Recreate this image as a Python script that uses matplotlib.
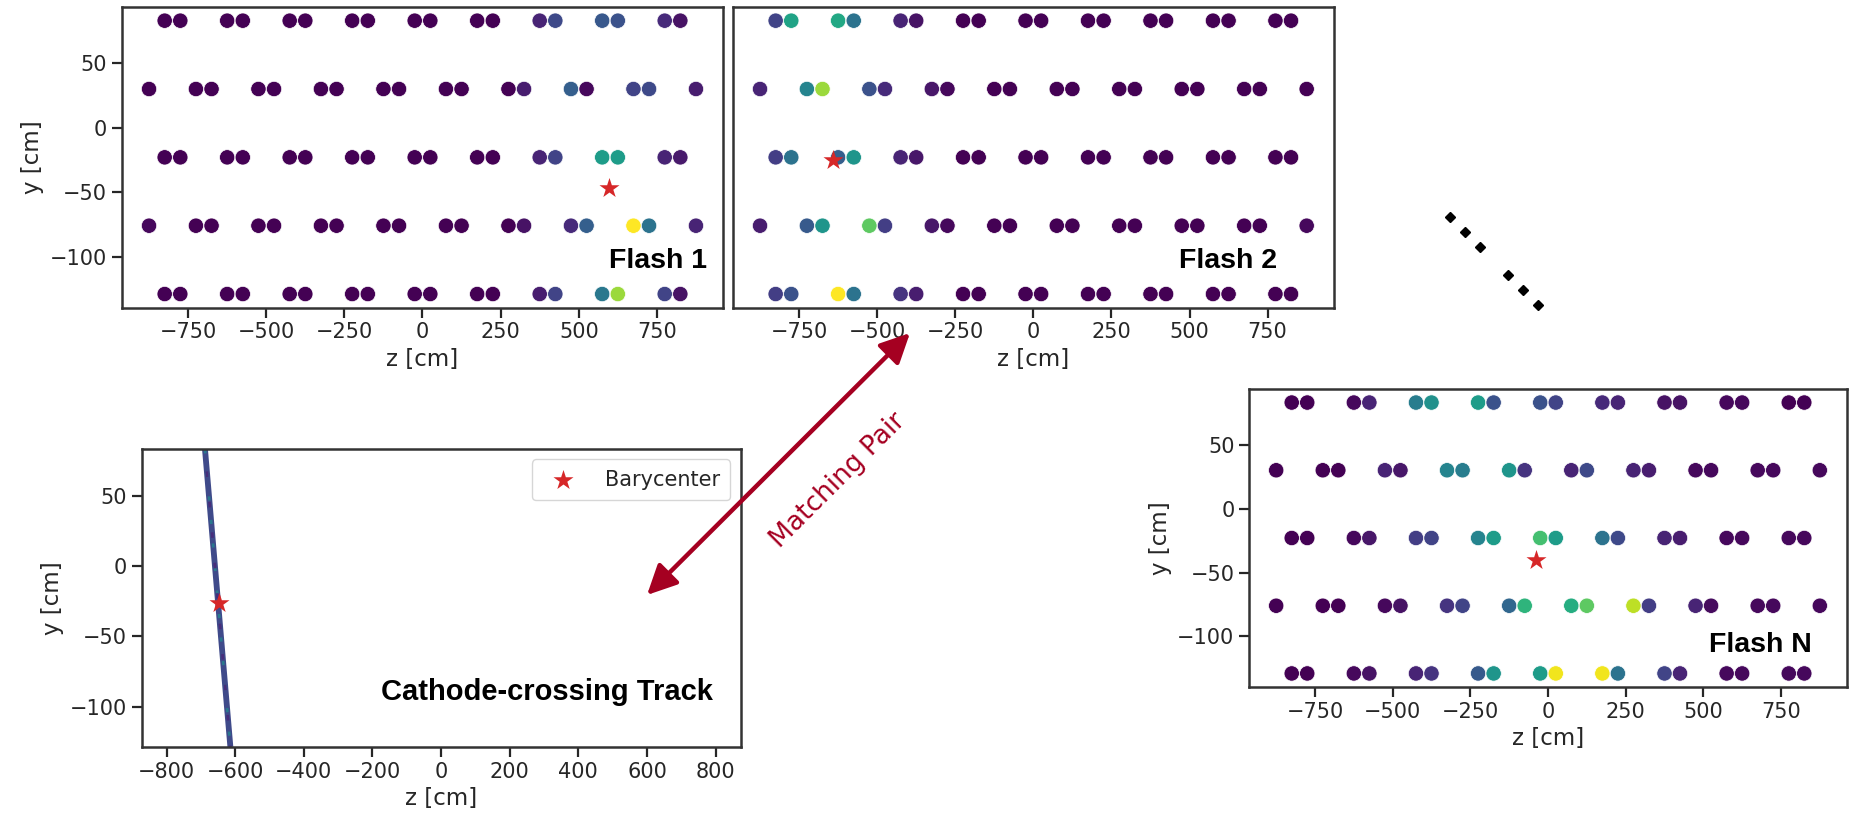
import matplotlib
matplotlib.use("Agg")
import matplotlib.pyplot as plt
import numpy as np
from matplotlib.patches import FancyArrowPatch
from matplotlib.lines import Line2D

# ---------------- data ----------------
row_y = [83, 30, -23, -76, -129]
z_paired = [-825, -775, -625, -575, -425, -375, -225, -175, -25, 25,
            175, 225, 375, 425, 575, 625, 775, 825]
z_single = [-875, -725, -675, -525, -475, -325, -275, -125, -75, 75,
            125, 275, 325, 475, 525, 675, 725, 875]
row_kind = ["paired", "single", "paired", "single", "paired"]

flash1_vals = [
    [0, 0, 0, 0, 0, 0, 0, 0, 0, 0, 0, 0, 0.1, 0.22, 0.27, 0.25, 0.12, 0.05],
    [0, 0, 0, 0, 0, 0, 0, 0, 0, 0, 0, 0, 0.08, 0.3, 0.02, 0.2, 0.22, 0.08],
    [0, 0, 0, 0, 0, 0, 0, 0, 0, 0, 0, 0, 0.1, 0.2, 0.55, 0.55, 0.1, 0.07],
    [0.02, 0, 0, 0, 0, 0, 0, 0, 0, 0, 0, 0, 0.05, 0.12, 0.3, 1.0, 0.38, 0.1],
    [0, 0, 0, 0, 0, 0, 0, 0, 0, 0, 0, 0, 0.08, 0.2, 0.4, 0.85, 0.2, 0.05],
]
flash2_vals = [
    [0.2, 0.58, 0.6, 0.38, 0.1, 0.05, 0, 0, 0, 0, 0, 0, 0, 0, 0, 0, 0, 0],
    [0.1, 0.45, 0.85, 0.25, 0.12, 0.06, 0.02, 0, 0, 0, 0, 0, 0, 0, 0, 0, 0, 0],
    [0.18, 0.38, 0.3, 0.52, 0.1, 0.06, 0, 0, 0, 0, 0, 0, 0, 0, 0, 0, 0, 0],
    [0.08, 0.28, 0.52, 0.75, 0.18, 0.06, 0.02, 0, 0, 0, 0, 0, 0, 0, 0, 0, 0, 0.02],
    [0.18, 0.25, 1.0, 0.38, 0.15, 0.08, 0, 0, 0, 0, 0, 0, 0, 0, 0, 0, 0, 0],
]
flashN_vals = [
    [0, 0, 0.02, 0.1, 0.42, 0.5, 0.55, 0.25, 0.25, 0.2, 0.12, 0.1, 0.05, 0.05, 0.02, 0.02, 0, 0],
    [0, 0, 0, 0.1, 0.06, 0.45, 0.42, 0.52, 0.15, 0.1, 0.22, 0.1, 0.08, 0.02, 0.02, 0.02, 0.02, 0.02],
    [0, 0, 0.02, 0.06, 0.18, 0.2, 0.45, 0.55, 0.7, 0.55, 0.38, 0.22, 0.1, 0.08, 0.02, 0.02, 0.02, 0.02],
    [0, 0, 0, 0.02, 0.05, 0.15, 0.2, 0.33, 0.65, 0.62, 0.75, 0.9, 0.18, 0.1, 0.03, 0.02, 0.02, 0.02],
    [0, 0, 0.02, 0.05, 0.1, 0.15, 0.28, 0.52, 0.55, 0.98, 0.98, 0.38, 0.2, 0.1, 0.02, 0.02, 0.02, 0.02],
]

bary_flash1 = (598, -47)
bary_flash2 = (-640, -25)
bary_flashN = (-40, -40)
bary_track = (-648, -26.5)

track_z = [-688, -614]
track_y = [83, -128.5]

flash_xticks = [-750, -500, -250, 0, 250, 500, 750]
track_xticks = [-800, -600, -400, -200, 0, 200, 400, 600, 800]
yticks = [-100, -50, 0, 50]

# ---------------- style ----------------
plt.rcParams.update({
    "font.family": ["DejaVu Sans"],
    "text.color": "0.15",
    "axes.edgecolor": "0.2",
    "axes.linewidth": 1.8,
    "axes.labelcolor": "0.15",
    "xtick.color": "0.15",
    "ytick.color": "0.15",
    "xtick.labelsize": 15,
    "ytick.labelsize": 15,
    "axes.labelsize": 16.5,
    "xtick.major.size": 7,
    "ytick.major.size": 7,
    "xtick.major.width": 1.6,
    "ytick.major.width": 1.6,
})

W, H = 1850, 817
fig = plt.figure(figsize=(W / 100, H / 100), dpi=100)


def rect(l, t, r, b):
    return [l / W, 1 - b / H, (r - l) / W, (b - t) / H]


def fpos(x, y):
    return (x / W, 1 - y / H)


ax1 = fig.add_axes(rect(121.7, 7, 723.3, 307.7))
ax2 = fig.add_axes(rect(732.7, 7, 1334, 307.7))
axN = fig.add_axes(rect(1249, 389, 1847, 687))
axT = fig.add_axes(rect(141.5, 449, 740.7, 747))

cmap = plt.get_cmap("viridis")
star_color = "#d62728"


def draw_flash(ax, vals, bary, label, lx, ly, show_y=True):
    zs, ys, cs = [], [], []
    for yv, kind, rv in zip(row_y, row_kind, vals):
        zz = z_paired if kind == "paired" else z_single
        zs.extend(zz)
        ys.extend([yv] * len(zz))
        cs.extend(rv)
    ax.scatter(zs, ys, c=cs, cmap=cmap, vmin=0, vmax=1, s=122,
               edgecolors="white", linewidths=0.5, zorder=2)
    ax.scatter([bary[0]], [bary[1]], marker="*", s=230, color=star_color,
               zorder=3, linewidths=0)
    ax.set_xlim(-962.5, 962.5)
    ax.set_ylim(-139.6, 93.6)
    ax.set_xticks(flash_xticks)
    ax.set_xlabel("z [cm]")
    if show_y:
        ax.set_yticks(yticks)
        ax.set_ylabel("y [cm]")
    else:
        ax.set_yticks([])
    ax.text(lx, ly, label, transform=ax.transAxes, ha="right", va="baseline",
            fontsize=20.5, fontweight="bold", family="Liberation Sans",
            color="black")


draw_flash(ax1, flash1_vals, bary_flash1, "Flash 1", 0.973, 0.132)
draw_flash(ax2, flash2_vals, bary_flash2, "Flash 2", 0.906, 0.132, show_y=False)
draw_flash(axN, flashN_vals, bary_flashN, "Flash N", 0.941, 0.118)

# track panel
axT.plot(track_z, track_y, color="#3f4a8a", lw=4.2, solid_capstyle="butt", zorder=2)
axT.plot(track_z, track_y, color="#2a788e", lw=2.0, ls=(0, (1.5, 7)), zorder=2)
axT.plot(track_z, track_y, color="#472d7b", lw=2.0, ls=(3, (2, 9)), zorder=2)
axT.scatter([bary_track[0]], [bary_track[1]], marker="*", s=230,
            color=star_color, zorder=3, linewidths=0, label="Barycenter")
axT.set_xlim(-873, 873)
axT.set_ylim(-128.5, 83.2)
axT.set_xticks(track_xticks)
axT.set_yticks(yticks)
axT.set_xlabel("z [cm]")
axT.set_ylabel("y [cm]")
axT.legend(loc="upper right", fontsize=15, frameon=True, edgecolor="0.8",
           handletextpad=1.0, borderpad=0.5)
axT.text(0.953, 0.158, "Cathode-crossing Track", transform=axT.transAxes,
         ha="right", va="baseline", fontsize=21, fontweight="bold",
         family="Liberation Sans", color="black")

# matching pair arrow
arrow_color = "#a50021"
arr = FancyArrowPatch(fpos(647, 595), fpos(910, 333), transform=fig.transFigure,
                      arrowstyle="<|-|>,head_length=0.45,head_width=0.22",
                      mutation_scale=40, lw=3.2, color=arrow_color,
                      shrinkA=0, shrinkB=0)
fig.add_artist(arr)
fig.text(*fpos(838, 480), "Matching Pair", rotation=45, rotation_mode="anchor",
         ha="center", va="center", color=arrow_color, fontsize=19)

# ellipsis diamonds
dots_x = [1450, 1465.3, 1480.3, 1507.7, 1523, 1538.3]
dots_y = [216.7, 232, 247.3, 274.7, 290, 305]
fig.add_artist(Line2D([x / W for x in dots_x], [1 - y / H for y in dots_y],
                      transform=fig.transFigure, ls="none", marker="D",
                      markersize=5.6, color="black"))

fig.savefig("out.png", dpi=100)
